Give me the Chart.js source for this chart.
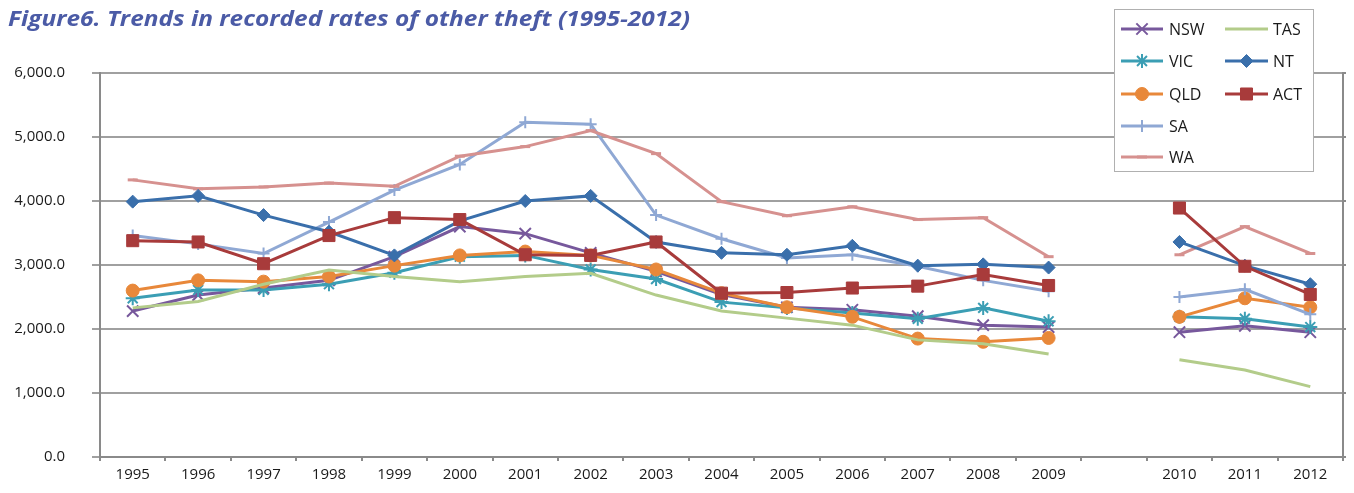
<!DOCTYPE html>
<html><head><meta charset="utf-8">
<script src="https://cdn.jsdelivr.net/npm/chart.js@4/dist/chart.umd.min.js"></script>
<style>
html,body{margin:0;padding:0;background:#fff;}
#wrap{position:relative;width:1354px;height:493px;overflow:hidden;}
#title{position:absolute;left:8px;top:2px;font-family:'Open Sans',sans-serif;font-weight:700;font-style:italic;font-size:22px;line-height:30px;color:#4B5BA6;white-space:nowrap;transform-origin:0 0;}
canvas{position:absolute;left:0;top:0;}
</style></head>
<body><div id="wrap"><canvas id="c" width="1354" height="493"></canvas><div id="title">Figure6. Trends in recorded rates of other theft (1995-2012)</div></div>
<script>
const categories = ['1995','1996','1997','1998','1999','2000','2001','2002','2003','2004','2005','2006','2007','2008','2009','','2010','2011','2012'];
const NSW = [2280,2530,2640,2760,3130,3600,3490,3190,2900,2540,2340,2300,2200,2060,2030,null,1950,2050,1950];
const VIC = [2480,2610,2610,2700,2880,3130,3150,2930,2780,2420,2330,2250,2160,2330,2120,null,2190,2160,2030];
const QLD = [2600,2760,2740,2820,2990,3150,3210,3150,2930,2560,2340,2190,1850,1800,1860,null,2190,2480,2340];
const SA  = [3460,3330,3180,3670,4170,4570,5230,5200,3780,3410,3110,3160,2980,2760,2590,null,2500,2620,2230];
const WA  = [4330,4190,4220,4280,4230,4700,4850,5100,4740,3990,3770,3910,3710,3740,3130,null,3160,3600,3180];
const TAS = [2330,2430,2700,2920,2820,2740,2820,2870,2530,2280,2170,2060,1830,1770,1610,null,1520,1360,1100];
const NT  = [3990,4080,3780,3520,3150,3690,4000,4080,3360,3190,3160,3300,2990,3010,2960,null,3360,2990,2700];
const ACT = [3380,3360,3020,3460,3740,3710,3160,3150,3360,2560,2570,2640,2670,2850,2680,null,3890,2980,2540];
const yTicks = [0,1000,2000,3000,4000,5000,6000];

const seriesNames = ['NSW','VIC','QLD','SA','WA','TAS','NT','ACT'];
const seriesData = [NSW,VIC,QLD,SA,WA,TAS,NT,ACT];
const styles = {
  NSW:{color:'#77589C', point:'crossRot', r:8, bw:2},
  VIC:{color:'#3B9EB4', point:'star', r:7, bw:2},
  QLD:{color:'#E8883A', point:'circle', r:6.5, bw:1},
  SA:{color:'#8FA8D4', point:'cross', r:6, bw:2},
  WA:{color:'#D6918F', point:'line', r:5, bw:3},
  TAS:{color:'#B3CC8A', point:false, r:0, bw:0},
  NT:{color:'#3A6FAB', point:'rectRot', r:6.5, bw:1},
  ACT:{color:'#A83B3B', point:'rect', r:8.5, bw:1}
};

function drawMarker(ctx, st, x, y){
  if(!st.point) return;
  if (Chart.helpers && Chart.helpers.drawPoint) {
    ctx.save();
    ctx.fillStyle = st.color; ctx.strokeStyle = st.color; ctx.lineWidth = st.bw;
    Chart.helpers.drawPoint(ctx, {pointStyle: st.point, radius: st.r, rotation: 0, borderWidth: st.bw}, x, y);
    ctx.restore();
  }
}

const legendPlugin = {
  id:'boxLegend',
  afterDraw(chart){
    const ctx = chart.ctx;
    ctx.save();
    ctx.fillStyle = '#ffffff';
    ctx.fillRect(1114, 9, 200, 163);
    ctx.strokeStyle = '#b0b0b0'; ctx.lineWidth = 1;
    ctx.strokeRect(1114.5, 9.5, 199, 162);
    const rowsY = [29, 61, 94, 126, 157];
    const cols = [{x0:1121, x1:1163, tx:1169},{x0:1225, x1:1268, tx:1273}];
    ctx.font = "16px 'Open Sans', sans-serif";
    ctx.textBaseline = 'middle';
    seriesNames.forEach((n, i) => {
      const col = i < 5 ? cols[0] : cols[1];
      const y = rowsY[i < 5 ? i : i - 5];
      const st = styles[n];
      ctx.strokeStyle = st.color; ctx.lineWidth = 3; ctx.lineCap = 'butt';
      ctx.beginPath(); ctx.moveTo(col.x0, y); ctx.lineTo(col.x1, y); ctx.stroke();
      drawMarker(ctx, st, (col.x0 + col.x1) / 2, y);
      ctx.fillStyle = '#1a1a1a';
      ctx.fillText(n, col.tx, y + 1);
    });
    ctx.restore();
  }
};

function build(){
  const t = document.getElementById('title');
  const w = t.getBoundingClientRect().width;
  t.style.transform = 'scaleX(' + (682 / w) + ')';

  Chart.defaults.font.family = "'Open Sans', sans-serif";
  Chart.defaults.font.size = 15;
  Chart.defaults.color = '#1a1a1a';

  const datasets = seriesNames.map((n, i) => {
    const st = styles[n];
    return {
      label: n,
      data: seriesData[i],
      borderColor: st.color,
      backgroundColor: st.color,
      borderWidth: 3,
      pointStyle: st.point,
      pointRadius: st.r,
      pointHoverRadius: st.r,
      pointBorderWidth: st.bw,
      pointBackgroundColor: st.color,
      pointBorderColor: st.color,
      tension: 0,
      spanGaps: false,
      fill: false,
      order: 8 - i
    };
  });

  new Chart(document.getElementById('c'), {
    type: 'line',
    data: { labels: categories, datasets },
    options: {
      responsive: false,
      animation: false,
      devicePixelRatio: 1,
      layout: { padding: { top: 73, left: 0, right: 0, bottom: 0 } },
      plugins: { legend: { display: false }, tooltip: { enabled: false }, title: { display: false } },
      scales: {
        x: {
          type: 'category',
          offset: true,
          grid: { display: true, drawOnChartArea: false, drawTicks: true, tickLength: 4, color: '#8a8a8a', lineWidth: 2, offset: true },
          border: { display: true, color: '#8a8a8a', width: 2 },
          ticks: { padding: 5, maxRotation: 0, autoSkip: false, color: '#1a1a1a', font: { size: 15 } },
          afterFit(s) { s.height = 33; }
        },
        y: {
          min: 0, max: 6000,
          afterBuildTicks(s) { s.ticks = yTicks.map(v => ({ value: v })); },
          ticks: {
            padding: 27, color: '#1a1a1a', font: { size: 15 },
            callback: v => Number(v).toLocaleString('en-US', { minimumFractionDigits: 1, maximumFractionDigits: 1 })
          },
          grid: { color: '#a0a0a0', lineWidth: 2, tickLength: 8, drawTicks: true },
          border: { display: true, color: '#8a8a8a', width: 2 },
          afterFit(s) { s.width = 100; }
        },
        y2: {
          position: 'right',
          min: 0, max: 6000,
          afterBuildTicks(s) { s.ticks = yTicks.map(v => ({ value: v })); },
          ticks: { display: false },
          grid: { drawOnChartArea: false, drawTicks: true, tickLength: 3, color: '#8a8a8a', lineWidth: 2 },
          border: { display: true, color: '#8a8a8a', width: 2 },
          afterFit(s) { s.width = 11; }
        }
      }
    },
    plugins: [legendPlugin]
  });
}

const fontLoads = [
  document.fonts.load("15px 'Open Sans'"),
  document.fonts.load("16px 'Open Sans'"),
  document.fonts.load("italic 700 22px 'Open Sans'")
];
Promise.all(fontLoads).then(build, build);
</script>
</body></html>
